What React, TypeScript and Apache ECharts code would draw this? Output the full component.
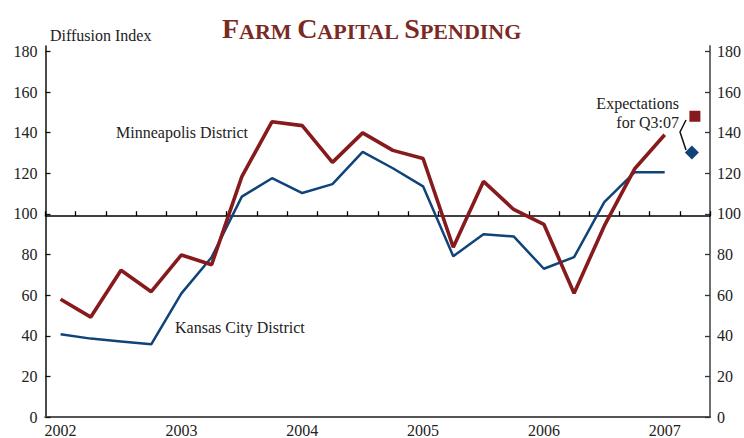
import React, { useEffect, useRef } from "react";
import * as echarts from "echarts";

const quarters = [
  "2002 Q1", "2002 Q2", "2002 Q3", "2002 Q4",
  "2003 Q1", "2003 Q2", "2003 Q3", "2003 Q4",
  "2004 Q1", "2004 Q2", "2004 Q3", "2004 Q4",
  "2005 Q1", "2005 Q2", "2005 Q3", "2005 Q4",
  "2006 Q1", "2006 Q2", "2006 Q3", "2006 Q4",
  "2007 Q1", "2007 Q2",
];

const minneapolis = [
  58.0, 49.2, 72.3, 61.7, 79.8, 75.0, 118.4, 145.4, 143.5, 125.4, 139.9,
  131.3, 127.3, 83.6, 116.0, 102.2, 94.9, 60.9, 94.1, 122.1, 139.0,
];

const kansasCity = [
  40.7, 38.6, 37.2, 35.8, 60.9, 78.7, 108.5, 117.6, 110.3, 114.7, 130.6,
  122.5, 113.6, 79.2, 90.0, 88.9, 73.0, 78.7, 105.8, 120.5, 120.5,
];

const expectationQuarter = ["2007 Q2"];
const expectationMinneapolis = [148.1];
const expectationKansasCity = [130.2];

const yTicks = [0, 20, 40, 60, 80, 100, 120, 140, 160, 180];

const RED = "#861a1c";
const BLUE = "#0f4379";
const FONT = "Liberation Serif";

export default function App() {
  const ref = useRef<HTMLDivElement>(null);

  useEffect(() => {
    if (!ref.current) return;
    const chart = echarts.init(ref.current, null, { renderer: "svg" });
    const gridLeft = 45.5;
    const gridRight = 34;
    const gridTop = 46;
    const gridBottom = 16;
    const yMax = 182.7;
    const plotH = 438 - gridTop - gridBottom;
    const y100 = gridTop + plotH * ((yMax - 100) / yMax);

    const labelStyle = { fontFamily: FONT, fontSize: 16, color: "#222" };
    const txt = (text: string, extra: any) => ({
      text,
      fontFamily: FONT,
      fontSize: 16,
      fill: "#222",
      ...extra,
    });

    chart.setOption({
      animation: false,
      backgroundColor: "#fff",
      title: {
        left: 217,
        top: 9,
        text: "{b|F}{s|ARM }{b|C}{s|APITAL }{b|S}{s|PENDING}",
        textStyle: {
          rich: {
            b: { fontFamily: FONT, fontWeight: "bold", fontSize: 28, color: "#7a2a24", lineHeight: 28, verticalAlign: "bottom" },
            s: { fontFamily: FONT, fontWeight: "bold", fontSize: 22, color: "#7a2a24", lineHeight: 28, verticalAlign: "bottom" },
          },
        },
      },
      grid: [
        { left: gridLeft, right: gridRight, top: gridTop, bottom: gridBottom },
        { left: gridLeft, right: gridRight, top: gridTop, bottom: 438 - y100 },
      ],
      xAxis: [
        {
          gridIndex: 0,
          type: "category",
          data: quarters,
          boundaryGap: true,
          position: "bottom",
          axisLine: { show: true, lineStyle: { color: "#4a4a4a", width: 2 } },
          axisTick: { show: false },
          axisLabel: {
            ...labelStyle,
            interval: 3,
            margin: 5,
            formatter: (v: string) => v.slice(0, 4),
          },
          splitLine: { show: false },
        },
        {
          gridIndex: 0,
          type: "category",
          data: quarters,
          position: "top",
          axisLine: { show: true, lineStyle: { color: "#555", width: 2 } },
          axisTick: { show: false },
          axisLabel: { show: false },
          splitLine: { show: false },
        },
        {
          gridIndex: 1,
          type: "category",
          data: quarters,
          boundaryGap: true,
          position: "bottom",
          axisLine: { show: true, onZero: false, lineStyle: { color: "#000", width: 1.5 } },
          axisTick: { show: true, inside: true, length: 5, interval: 0, lineStyle: { color: "#000", width: 1.3 } },
          axisLabel: { show: false },
          splitLine: { show: false },
        },
      ],
      yAxis: [
        {
          gridIndex: 0,
          type: "value",
          position: "left",
          min: 0,
          max: yMax,
          axisLine: { show: true, lineStyle: { color: "#111", width: 1.5 } },
          axisTick: { show: true, inside: true, length: 5, customValues: yTicks, lineStyle: { color: "#111", width: 1.3 } },
          axisLabel: { ...labelStyle, margin: 8, customValues: yTicks },
          splitLine: { show: false },
        },
        {
          gridIndex: 0,
          type: "value",
          position: "right",
          min: 0,
          max: yMax,
          axisLine: { show: true, lineStyle: { color: "#6e6e6e", width: 2 } },
          axisTick: { show: true, inside: true, length: 5, customValues: yTicks, lineStyle: { color: "#333", width: 1.3 } },
          axisLabel: { ...labelStyle, margin: 7, customValues: yTicks },
          splitLine: { show: false },
        },
        {
          gridIndex: 1,
          type: "value",
          show: false,
          min: 0,
          max: 1,
        },
      ],
      series: [
        {
          type: "line",
          name: "Kansas City District",
          xAxisIndex: 0,
          yAxisIndex: 0,
          data: kansasCity,
          symbol: "none",
          lineStyle: { color: BLUE, width: 2.5 },
          z: 3,
        },
        {
          type: "line",
          name: "Minneapolis District",
          xAxisIndex: 0,
          yAxisIndex: 0,
          data: minneapolis,
          symbol: "none",
          lineStyle: { color: RED, width: 3.6 },
          z: 4,
        },
        {
          type: "scatter",
          xAxisIndex: 0,
          yAxisIndex: 0,
          data: expectationQuarter.map((q, i) => [q, expectationMinneapolis[i]]),
          symbol: "rect",
          symbolSize: 11,
          itemStyle: { color: RED, opacity: 1 },
          z: 5,
        },
        {
          type: "scatter",
          xAxisIndex: 0,
          yAxisIndex: 0,
          data: expectationQuarter.map((q, i) => [q, expectationKansasCity[i]]),
          symbol: "diamond",
          symbolSize: 14,
          symbolOffset: [-3, 0],
          itemStyle: { color: BLUE, opacity: 1 },
          z: 5,
        },
      ],
      graphic: [
        {
          type: "text",
          x: 50,
          y: 35,
          style: txt("Diffusion Index", { textVerticalAlign: "middle" }),
        },
        {
          type: "text",
          x: 116,
          y: 132,
          style: txt("Minneapolis District", { textVerticalAlign: "middle" }),
        },
        {
          type: "text",
          x: 175,
          y: 327,
          style: txt("Kansas City District", { textVerticalAlign: "middle" }),
        },
        {
          type: "text",
          x: 679,
          y: 103,
          style: txt("Expectations", { textAlign: "right", textVerticalAlign: "middle" }),
        },
        {
          type: "text",
          x: 679,
          y: 122,
          style: txt("for Q3:07", { textAlign: "right", textVerticalAlign: "middle" }),
        },
        {
          type: "polyline",
          shape: { points: [[686, 120], [680, 132], [686, 150]] },
          style: { stroke: "#111", lineWidth: 1.5, fill: null },
          z: 10,
        },
      ],
    });
    return () => chart.dispose();
  }, []);

  return <div ref={ref} style={{ width: 744, height: 438, position: "absolute", left: 0, top: 0 }} />;
}
